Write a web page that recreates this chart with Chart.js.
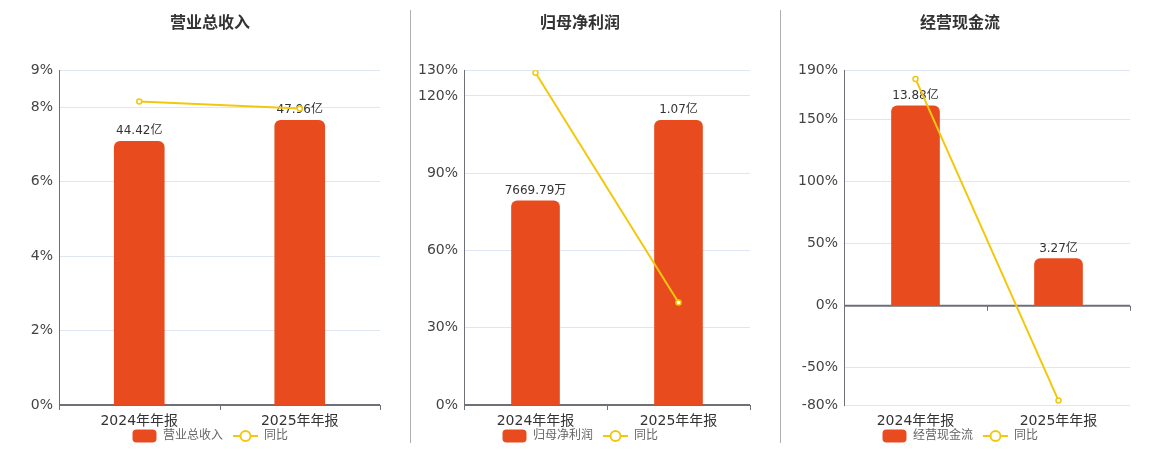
<!DOCTYPE html>
<html lang="zh">
<head>
<meta charset="UTF-8">
<title>财务指标</title>
<script src="https://cdn.jsdelivr.net/npm/chart.js@4.4.1/dist/chart.umd.min.js"></script>
<style>
  body { margin: 0; background: #fff; }
  #wrap { position: relative; width: 1160px; height: 450px; overflow: hidden; }
  .panel { position: absolute; top: 0; }
  .divider { position: absolute; top: 10px; width: 1px; height: 433px; background: #b0b0b0; }
</style>
</head>
<body>
<div id="wrap">
  <canvas id="c1" class="panel" style="left:0px"></canvas>
  <canvas id="c2" class="panel" style="left:400px"></canvas>
  <canvas id="c3" class="panel" style="left:789px"></canvas>
  <div class="divider" style="left:410px"></div>
  <div class="divider" style="left:780px"></div>
</div>
<script>
// 数据
const categories = ['2024年年报', '2025年年报'];

const revenueValues = [44.42, 47.96];          // 亿
const revenueLabels = ['44.42亿', '47.96亿'];
const revenueYoy = [8.16, 7.97];               // %
const revenueTicks = [0, 2, 4, 6, 8, 9];

const profitValues = [0.766979, 1.07];         // 亿
const profitLabels = ['7669.79万', '1.07亿'];
const profitYoy = [129.0, 39.8];
const profitTicks = [0, 30, 60, 90, 120, 130];

const cashValues = [13.88, 3.27];              // 亿
const cashLabels = ['13.88亿', '3.27亿'];
const cashYoy = [183.0, -76.4];
const cashTicks = [-80, -50, 0, 50, 100, 150, 190];

const BAR = '#e84c1e';
const LINE = '#f2c80f';
const FONT = "'DejaVu Sans', 'Noto Sans CJK SC', sans-serif";

function barIcon() {
  const c = document.createElement('canvas');
  c.width = 25; c.height = 14;
  const g = c.getContext('2d');
  g.fillStyle = BAR;
  g.beginPath();
  g.roundRect(0.5, 0.5, 24, 13, 4);
  g.fill();
  return c;
}

function lineIcon() {
  const c = document.createElement('canvas');
  c.width = 25; c.height = 14;
  const g = c.getContext('2d');
  g.strokeStyle = LINE;
  g.lineWidth = 2;
  g.beginPath();
  g.moveTo(0, 7); g.lineTo(25, 7);
  g.stroke();
  g.fillStyle = '#fff';
  g.beginPath();
  g.arc(12.5, 7, 5, 0, Math.PI * 2);
  g.fill();
  g.stroke();
  return c;
}

// 柱顶数值
const barLabelPlugin = {
  id: 'barLabels',
  afterDatasetDraw(chart, args) {
    if (args.index !== 0) return;
    const labels = chart.data.datasets[0].valueLabels;
    const ctx = chart.ctx;
    ctx.save();
    ctx.font = '12px ' + FONT;
    ctx.fillStyle = '#333';
    ctx.textAlign = 'center';
    ctx.textBaseline = 'bottom';
    args.meta.data.forEach((el, i) => {
      ctx.fillText(labels[i], el.x, el.y - 4);
    });
    ctx.restore();
  }
};

// 零轴和刻度；x 轴标签区域放大，避免被裁掉
const zeroAxisPlugin = {
  id: 'zeroAxis',
  afterLayout(chart) {
    chart.scales.x.bottom = chart.height;
  },
  beforeDatasetsDraw(chart) {
    const { ctx, chartArea } = chart;
    const y0 = chart.scales.y.getPixelForValue(0);
    const n = chart.data.labels.length;
    const step = (chartArea.right - chartArea.left) / n;
    ctx.save();
    ctx.strokeStyle = '#6e7079';
    ctx.lineWidth = 2;
    ctx.beginPath();
    ctx.moveTo(chartArea.left, y0);
    ctx.lineTo(chartArea.right, y0);
    ctx.stroke();
    ctx.lineWidth = 1;
    for (let i = 0; i <= n; i++) {
      const x = Math.round(chartArea.left + i * step) + 0.5;
      ctx.beginPath();
      ctx.moveTo(x, y0);
      ctx.lineTo(x, y0 + 5);
      ctx.stroke();
    }
    ctx.restore();
  }
};

function makePanel(id, width, title, name, values, labels, yoy, ticks, barRange, leftW, rightW, barW) {
  const canvas = document.getElementById(id);
  canvas.width = width;
  canvas.height = 450;
  canvas.style.width = width + 'px';
  canvas.style.height = '450px';
  const icons = [barIcon(), lineIcon()];

  return new Chart(canvas, {
    type: 'bar',
    data: {
      labels: categories,
      datasets: [
        {
          type: 'bar',
          label: name,
          data: values,
          valueLabels: labels,
          yAxisID: 'yb',
          backgroundColor: BAR,
          barThickness: barW,
          borderRadius: { topLeft: 6, topRight: 6, bottomLeft: 0, bottomRight: 0 },
          borderSkipped: 'start',
          order: 0
        },
        {
          type: 'line',
          label: '同比',
          data: yoy,
          yAxisID: 'y',
          borderColor: LINE,
          borderWidth: 2,
          pointRadius: 2.5,
          pointBorderWidth: 1.5,
          pointBackgroundColor: '#fff',
          pointBorderColor: LINE,
          order: -1
        }
      ]
    },
    options: {
      responsive: false,
      animation: false,
      devicePixelRatio: 1,
      layout: { padding: { top: 0, left: 0, right: 0, bottom: -2 }, autoPadding: false },
      plugins: {
        title: {
          display: true,
          text: title,
          color: '#333',
          font: { family: FONT, size: 16, weight: 'bold' },
          padding: { top: 14, bottom: 37 }
        },
        legend: {
          position: 'bottom',
          labels: {
            usePointStyle: true,
            pointStyleWidth: 25,
            padding: 10,
            color: '#666',
            font: { family: FONT, size: 12 },
            generateLabels: () => [
              { text: name, pointStyle: icons[0], datasetIndex: 0, fontColor: '#666', lineWidth: 0, hidden: false },
              { text: '同比', pointStyle: icons[1], datasetIndex: 1, fontColor: '#666', lineWidth: 0, hidden: false }
            ]
          }
        },
        tooltip: { enabled: false }
      },
      scales: {
        x: {
          grid: { display: false, drawTicks: false },
          border: { display: false },
          ticks: { color: '#333', padding: 8, font: { family: FONT, size: 14 } },
          afterFit: (s) => { s.height = 15; }
        },
        y: {
          position: 'left',
          min: ticks[0],
          max: ticks[ticks.length - 1],
          afterBuildTicks: (s) => { s.ticks = ticks.map(v => ({ value: v })); },
          grid: { color: '#e0e6f1', drawTicks: false },
          border: { color: '#6e7079', width: 1 },
          ticks: {
            color: '#444',
            padding: 6,
            font: { family: FONT, size: 14 },
            callback: (v) => v + '%'
          },
          afterFit: (s) => { s.width = leftW; }
        },
        yb: {
          position: 'right',
          display: rightW > 0,
          min: barRange[0],
          max: barRange[1],
          grid: { display: false, drawTicks: false },
          border: { display: false },
          ticks: { display: false },
          afterFit: (s) => { s.width = rightW; }
        }
      }
    },
    plugins: [zeroAxisPlugin, barLabelPlugin]
  });
}

makePanel('c1', 420, '营业总收入', '营业总收入', revenueValues, revenueLabels, revenueYoy, revenueTicks, [0, 56.4], 59, 40, 50);
makePanel('c2', 360, '归母净利润', '归母净利润', profitValues, profitLabels, profitYoy, profitTicks, [0, 1.258], 64, 10, 48);
makePanel('c3', 342, '经营现金流', '经营现金流', cashValues, cashLabels, cashYoy, cashTicks, [-6.89, 16.36], 55, 1, 48);
</script>
</body>
</html>
